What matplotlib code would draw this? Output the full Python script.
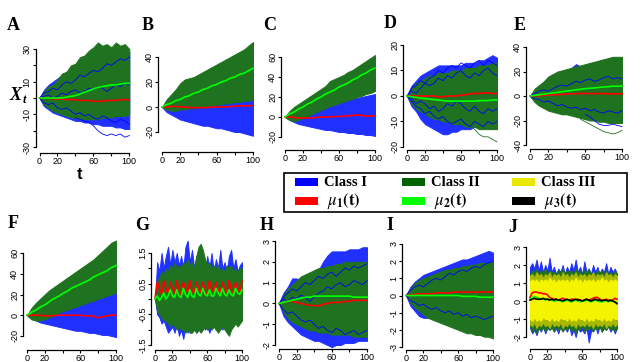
import matplotlib.pyplot as plt
from matplotlib.patches import Rectangle

# --- data (X_t envelopes, sample paths and means) ---
T21 = [0, 5, 10, 15, 20, 25, 30, 35, 40, 45, 50,
       55, 60, 65, 70, 75, 80, 85, 90, 95, 100]
T41 = [0, 2.5, 5, 7.5, 10, 12.5, 15, 17.5, 20, 22.5,
       25, 27.5, 30, 32.5, 35, 37.5, 40, 42.5, 45, 47.5,
       50, 52.5, 55, 57.5, 60, 62.5, 65, 67.5, 70, 72.5,
       75, 77.5, 80, 82.5, 85, 87.5, 90, 92.5, 95, 97.5,
       100]

# A
A_BLUE_HI = [0, 5, 8, 10, 12, 14, 16, 18, 19, 21, 22, 23, 24, 25, 26, 26, 27, 27, 28, 28, 28]
A_BLUE_LO = [0, -5, -7, -9, -10, -11, -12, -13, -14, -14, -15, -15, -16, -16, -17, -17, -17, -18, -18, -19, -19]
A_GREEN_HI = [0, 4, 7, 8, 11, 15, 16, 20, 21, 25, 26, 29, 31, 34, 32, 33, 31, 34, 32, 33, 30]
A_GREEN_LO = [0, -4, -6, -8, -9, -10, -11, -12, -12, -13, -13, -13, -13, -13, -12, -12, -12, -11, -11, -11, -10]
A_MU1 = [0, 0, 0, -0.5, -0.5, -0.5, -1, -1, -1, -1.5, -1.5, -1.5, -2, -2, -2, -1.5, -1.5, -1.5, -1, -1, -1]
A_MU2 = [0, 0, 0, 0, 0, 0, 0.5, 1, 1.5, 2.5, 3.5, 4.5, 5.5, 6.5, 7, 7.5, 8, 8, 8.5, 9, 9]
A_OUT_T = [40, 45, 50, 55, 60, 65, 70, 75, 80, 85, 90, 95, 100]
A_OUT_BLUE = [-12, -13, -14, -15, -17, -20, -22, -23, -22, -23, -22, -24, -23]
A_BLUE_P1 = [0, 3, 4, 6, 5, 8, 10, 9, 11, 14, 13, 15, 17, 16, 18, 21, 20, 22, 24, 23, 25]
A_BLUE_P2 = [0, -3, -4, -3, -6, -7, -6, -8, -10, -9, -11, -10, -12, -13, -11, -12, -14, -15, -13, -14, -16]
A_BLUE_P3 = [0, 1, 2, 0, 1, 3, 2, 4, 5, 3, 4, 6, 5, 7, 6, 4, 6, 8, 7, 9, 8]

# B
B_BLUE_HI = [0, 3, 5, 7, 8, 9, 10, 11, 12, 13, 13, 14, 15, 16, 17, 18, 18, 19, 20, 21, 22]
B_BLUE_LO = [0, -4, -6, -8, -10, -11, -12, -13, -14, -15, -15, -16, -17, -17, -18, -19, -20, -20, -21, -22, -23]
B_GREEN_HI = [0, 6, 10, 14, 19, 22, 23, 24, 26, 28, 30, 32, 34, 36, 38, 40, 42, 44, 46, 49, 52]
B_GREEN_LO = [0, -2, -3, -3, -2, -2, -1, -1, 0, 0, 1, 1, 2, 2, 3, 3, 4, 4, 5, 5, 6]
B_MU1 = [0, 0, 0.5, 0.5, 0, 0, -0.5, -0.5, -0.5, -0.5, -0.5, 0, 0, 0, 0, 0.5, 0.5, 1, 1, 1, 1]
B_MU2 = [0, 2, 3, 5, 6, 8, 9, 11, 12, 14, 15, 17, 18, 20, 21, 23, 24, 26, 27, 29, 31]

# C
C_BLUE_HI = [0, 3, 5, 6, 7, 8, 9, 10, 11, 12, 13, 14, 15, 16, 17, 18, 19, 20, 21, 22, 23]
C_BLUE_LO = [0, -3, -5, -7, -8, -9, -10, -11, -12, -13, -13, -14, -15, -15, -16, -16, -17, -17, -18, -18, -19]
C_GREEN_HI = [0, 6, 10, 13, 16, 19, 22, 25, 28, 31, 36, 38, 40, 42, 45, 47, 50, 53, 56, 59, 62]
C_GREEN_LO = [0, -3, -4, -3, -1, 1, 3, 5, 7, 9, 11, 12, 14, 15, 17, 18, 20, 21, 23, 24, 26]
C_MU1 = [0, 0, -0.5, -1, -1, -1, -1, -0.5, 0, 0, 0, 0.5, 0.5, 1, 1, 1.5, 2, 1.5, 1, 1, 1.5]
C_MU2 = [0, 3, 5, 8, 10, 13, 15, 18, 20, 23, 25, 27, 30, 32, 34, 37, 39, 42, 44, 47, 49]

# D
D_BLUE_HI = [0, 4, 6, 8, 9, 10, 11, 12, 12, 12, 12, 12, 12, 13, 13, 13, 14, 14, 15, 16, 15]
D_BLUE_LO = [0, -4, -6, -9, -11, -12, -13, -14, -15, -15, -14, -14, -13, -13, -13, -12, -12, -12, -12, -12, -11]
D_GREEN_HI = [0, 3, 5, 6, 7, 8, 8, 9, 9, 9, 10, 10, 10, 11, 11, 11, 12, 12, 12, 13, 13]
D_GREEN_LO = [0, -3, -5, -6, -7, -8, -9, -9, -10, -10, -11, -11, -11, -12, -12, -12, -13, -13, -13, -13, -13]
D_MU1 = [0, 0, 0, 0, 0, 0, 0, -0.3, -0.3, 0, 0, 0, 0.3, 0.5, 0.8, 1, 1, 1.2, 1.2, 1, 1]
D_MU2 = [0, -0.3, -0.5, -0.8, -1, -1.2, -1.4, -1.6, -1.8, -2, -2, -2, -2, -2, -2, -2, -1.8, -1.8, -1.8, -1.6, -1.5]
D_OUT_T = [70, 75, 80, 85, 90, 95, 100]
D_OUT_GREEN = [-12, -13, -15, -16, -16, -17, -18]
D_BLUE_P1 = [0, 3, 4, 6, 5, 7, 8, 10, 9, 11, 12, 11, 13, 12, 11, 13, 14, 12, 14, 13, 12]
D_BLUE_P2 = [0, -2, -4, -5, -7, -6, -8, -9, -8, -10, -11, -10, -9, -11, -12, -10, -11, -12, -10, -11, -10]
D_BLUE_P3 = [0, 2, 1, 3, 5, 4, 5, 7, 6, 8, 7, 9, 10, 8, 7, 9, 8, 10, 11, 9, 8]
D_BLUE_P4 = [0, -1, -3, -2, -3, -5, -4, -6, -5, -3, -4, -2, -3, -5, -6, -4, -6, -7, -5, -6, -5]

# E
E_BLUE_HI = [0, 4, 6, 8, 10, 12, 14, 17, 20, 23, 26, 24, 21, 20, 20, 21, 20, 21, 20, 21, 20]
E_BLUE_LO = [0, -4, -6, -8, -10, -11, -12, -13, -14, -14, -14, -15, -15, -15, -16, -16, -17, -18, -19, -20, -20]
E_GREEN_HI = [0, 6, 9, 12, 16, 18, 20, 21, 22, 23, 24, 25, 26, 27, 28, 29, 30, 31, 32, 32, 32]
E_GREEN_LO = [0, -5, -8, -10, -12, -13, -14, -15, -15, -16, -17, -18, -19, -20, -20, -21, -21, -22, -22, -22, -22]
E_MU1 = [0, 0, 0.3, 0.5, 0.8, 1, 1.2, 1.4, 1.6, 1.8, 2, 2, 2, 2, 2, 2, 2, 1.8, 1.8, 1.8, 1.8]
E_MU2 = [0, 0.5, 1, 1.5, 2, 2.5, 3, 3.5, 4, 4.5, 5, 5.5, 6, 6.3, 6.6, 7, 7.3, 7.6, 8, 8, 8]
E_OUT_GT = [55, 60, 65, 70, 75, 80, 85, 90, 95, 100]
E_OUT_GREEN = [-19, -21, -23, -25, -27, -29, -30, -31, -30, -28]
E_OUT_BT = [60, 65, 70, 75, 80, 85, 90, 95, 100]
E_OUT_BLUE = [-15, -17, -20, -23, -24, -24, -23, -24, -25]
E_BLUE_P1 = [0, 2, 4, 5, 4, 6, 8, 9, 8, 10, 12, 11, 13, 14, 12, 13, 15, 16, 14, 15, 14]
E_BLUE_P2 = [0, -2, -3, -5, -4, -6, -8, -7, -9, -10, -9, -11, -10, -12, -11, -13, -14, -12, -13, -14, -12]

# F
F_BLUE_HI = [0, 3, 5, 7, 8, 9, 10, 11, 12, 13, 14, 15, 16, 17, 18, 20, 22, 24, 25, 25, 25]
F_BLUE_LO = [0, -3, -5, -7, -8, -9, -10, -11, -12, -13, -14, -15, -15, -16, -17, -17, -18, -19, -19, -20, -21]
F_GREEN_HI = [0, 7, 12, 16, 20, 24, 27, 30, 33, 36, 39, 42, 45, 48, 51, 54, 58, 62, 66, 70, 72]
F_GREEN_LO = [0, -4, -5, -5, -4, -2, 0, 2, 4, 5, 7, 8, 10, 11, 13, 14, 16, 17, 19, 20, 22]
F_MU1 = [0, 0, 0, 0, -0.5, -0.5, -0.5, 0, 0, 0, 0, 0, 0, -0.5, -0.5, -1, -2.5, -1.5, -0.5, 0, 0]
F_MU2 = [0, 3, 5, 8, 10, 13, 16, 18, 21, 23, 26, 28, 30, 32, 34, 37, 39, 41, 43, 46, 48]

# G (oscillating, finer grid)
G_BLUE_HI = [0.0, 1.2, 0.9, 1.5, 1.0, 1.4, 1.7, 1.1, 1.6, 1.2,
             1.5, 1.1, 1.4, 1.0, 1.7, 1.9, 1.2, 1.6, 1.0, 1.4,
             1.5, 1.0, 1.3, 0.9, 1.4, 1.0, 1.5, 0.9, 1.3, 1.0,
             1.6, 1.0, 1.2, 0.9, 1.4, 1.6, 1.0, 1.3, 0.9, 1.1,
             1.2]
G_BLUE_LO = [0.0, -0.5, -0.6, -0.8, -0.7, -0.9, -1.1, -1.0, -0.9, -1.1,
             -0.8, -1.2, -1.0, -1.3, -0.9, -1.1, -0.8, -1.0, -0.9, -1.1,
             -1.0, -0.9, -0.8, -1.0, -0.9, -1.1, -0.9, -0.8, -1.0, -0.9,
             -0.8, -1.0, -0.8, -0.9, -0.7, -0.9, -0.8, -0.7, -0.8, -0.7,
             -0.6]
G_GREEN_HI = [0.0, 0.6, 0.7, 0.9, 0.8, 1.0, 0.9, 1.1, 1.0, 1.2,
              1.0, 1.1, 1.0, 1.2, 1.1, 1.3, 1.1, 1.2, 1.0, 1.4,
              1.7, 1.8, 1.6, 1.3, 1.1, 1.2, 1.0, 1.1, 1.0, 1.1,
              0.9, 1.0, 0.9, 1.1, 1.0, 1.1, 0.9, 1.0, 0.9, 1.0,
              1.0]
G_GREEN_LO = [0.0, -0.4, -0.5, -0.6, -0.7, -0.7, -0.8, -0.9, -0.8, -0.9,
              -1.0, -0.9, -1.0, -1.0, -1.1, -1.0, -1.1, -1.1, -1.0, -1.1,
              -1.0, -1.1, -1.0, -0.9, -1.0, -0.9, -1.0, -0.9, -1.0, -1.1,
              -1.0, -0.9, -1.0, -1.1, -1.2, -1.0, -0.9, -0.8, -0.9, -0.8,
              -0.7]
G_MU1 = [0.0, 0.55, 0.35, 0.15, 0.6, 0.35, 0.15, 0.55, 0.35, 0.2,
         0.6, 0.3, 0.15, 0.55, 0.35, 0.2, 0.6, 0.3, 0.15, 0.55,
         0.35, 0.2, 0.55, 0.3, 0.15, 0.6, 0.35, 0.2, 0.55, 0.3,
         0.15, 0.55, 0.35, 0.2, 0.6, 0.3, 0.2, 0.55, 0.35, 0.2,
         0.6]
G_MU2 = [0.0, 0.1, -0.05, 0.05, 0.2, 0.0, 0.1, 0.3, 0.1, 0.05,
         0.3, 0.1, 0.05, 0.35, 0.15, 0.05, 0.3, 0.1, 0.05, 0.35,
         0.15, 0.1, 0.35, 0.15, 0.1, 0.3, 0.1, 0.1, 0.35, 0.2,
         0.1, 0.35, 0.15, 0.1, 0.3, 0.15, 0.1, 0.35, 0.2, 0.15,
         0.3]

# H
H_BLUE_HI = [0, 0.5, 0.8, 1.2, 1.2, 1.1, 1.1, 1.2, 1.4, 1.6, 2.0, 2.3, 2.5, 2.5, 2.5, 2.5, 2.6, 2.6, 2.6, 2.7, 2.7]
H_BLUE_LO = [0, -0.6, -0.9, -1.1, -1.3, -1.5, -1.6, -1.7, -1.8, -1.8, -1.9, -2.0, -2.1, -2.0, -2.0, -1.9, -1.9, -1.9, -1.8, -1.8, -1.8]
H_GREEN_HI = [0, 0.4, 0.7, 0.9, 1.1, 1.3, 1.4, 1.5, 1.6, 1.7, 1.7, 1.8, 1.8, 1.9, 1.9, 2.0, 2.0, 2.0, 2.0, 2.0, 2.0]
H_GREEN_LO = [0, -0.4, -0.7, -0.9, -1.0, -1.1, -1.2, -1.3, -1.3, -1.4, -1.4, -1.4, -1.5, -1.5, -1.5, -1.5, -1.5, -1.6, -1.6, -1.6, -1.6]
H_MU1 = [0, 0.05, 0.1, 0.1, 0.05, 0.0, -0.05, -0.1, -0.1, -0.12, -0.05, 0.0, 0.05, 0.05, 0.05, 0.1, 0.1, 0.15, 0.15, 0.15, 0.15]
H_MU2 = [0, 0.05, 0.1, 0.15, 0.2, 0.25, 0.3, 0.3, 0.35, 0.35, 0.35, 0.35, 0.35, 0.35, 0.35, 0.35, 0.35, 0.3, 0.3, 0.3, 0.3]
H_BLUE_P1 = [0, 0.3, 0.5, 0.7, 0.6, 0.8, 1.0, 0.9, 1.1, 1.3, 1.2, 1.4, 1.5, 1.3, 1.5, 1.7, 1.6, 1.8, 1.7, 1.8, 1.9]
H_BLUE_P2 = [0, -0.3, -0.5, -0.4, -0.6, -0.8, -0.9, -0.8, -1.0, -1.2, -1.1, -1.3, -1.4, -1.2, -1.3, -1.5, -1.4, -1.3, -1.5, -1.4, -1.3]
H_BLUE_P3 = [0, 0.2, 0.1, 0.3, 0.2, 0.4, 0.3, 0.1, 0.3, 0.5, 0.6, 0.8, 0.7, 0.9, 1.0, 0.8, 0.9, 1.1, 1.0, 0.9, 1.1]

# I
I_BLUE_HI = [0, 0.5, 0.8, 1.0, 1.2, 1.3, 1.4, 1.5, 1.6, 1.7, 1.8, 1.9, 2.0, 2.1, 2.1, 2.2, 2.3, 2.4, 2.5, 2.6, 2.5]
I_BLUE_LO = [0, -0.6, -0.9, -1.2, -1.3, -1.3, -1.2, -1.2, -1.3, -1.3, -1.4, -1.4, -1.5, -1.5, -1.6, -1.6, -1.7, -1.7, -1.8, -1.8, -1.8]
I_GREEN_HI = [0, 0.4, 0.7, 0.9, 1.0, 1.1, 1.2, 1.3, 1.4, 1.5, 1.5, 1.6, 1.6, 1.7, 1.7, 1.8, 1.8, 1.9, 1.9, 1.9, 2.0]
I_GREEN_LO = [0, -0.4, -0.7, -0.9, -1.1, -1.3, -1.4, -1.5, -1.6, -1.7, -1.8, -1.9, -2.0, -2.1, -2.2, -2.2, -2.3, -2.3, -2.4, -2.4, -2.5]
I_MU1 = [0, 0.05, 0.05, 0.1, 0.1, 0.1, 0.1, 0.15, 0.15, 0.15, 0.15, 0.2, 0.2, 0.2, 0.2, 0.2, 0.2, 0.2, 0.2, 0.2, 0.2]
I_MU2 = [0, 0, 0, 0, 0, 0, 0, 0, 0, 0, 0, 0, 0, -0.05, -0.05, -0.05, -0.05, -0.1, -0.1, -0.1, -0.1]
I_BLUE_P1 = [0, 0.3, 0.5, 0.6, 0.5, 0.7, 0.9, 1.0, 0.9, 1.1, 1.3, 1.2, 1.4, 1.5, 1.4, 1.6, 1.7, 1.6, 1.8, 1.9, 2.0]
I_BLUE_P2 = [0, -0.3, -0.4, -0.6, -0.5, -0.7, -0.8, -0.7, -0.9, -1.0, -0.9, -1.1, -1.0, -1.2, -1.1, -1.3, -1.2, -1.3, -1.4, -1.3, -1.2]

# J (three classes, stationary)
J_BLUE_HI = [1.9, 2.1, 1.8, 2.3, 1.7, 2.2, 1.6, 2.0, 1.7, 2.4,
             1.6, 1.9, 1.5, 1.8, 1.6, 2.0, 1.5, 1.9, 1.6, 2.1,
             1.7, 2.3, 1.6, 1.9, 1.5, 2.2, 1.6, 1.8, 1.5, 2.0,
             1.6, 1.9, 1.5, 1.8, 1.6, 2.1, 1.5, 1.9, 1.6, 1.8,
             1.5]
J_BLUE_LO = [-1.5, -1.8, -1.6, -1.9, -1.5, -1.7, -1.4, -1.8, -1.5, -1.6,
             -1.4, -1.7, -1.5, -1.8, -1.4, -1.6, -1.5, -1.7, -1.4, -1.9,
             -1.6, -2.0, -1.5, -1.7, -1.6, -1.8, -1.5, -2.3, -1.7, -1.6,
             -1.4, -1.8, -1.4, -1.7, -1.5, -1.6, -1.4, -1.7, -1.5, -1.8,
             -1.5]
J_GREEN_HI = [1.5, 1.7, 1.6, 1.8, 1.5, 1.7, 1.6, 1.8, 1.5, 1.7,
              1.6, 1.6, 1.5, 1.7, 1.6, 1.8, 1.5, 1.7, 1.6, 1.7,
              1.5, 1.8, 1.6, 1.7, 1.5, 1.7, 1.6, 1.8, 1.5, 1.6,
              1.5, 1.7, 1.6, 1.7, 1.5, 1.7, 1.5, 1.6, 1.5, 1.7,
              1.5]
J_GREEN_LO = [-1.4, -1.7, -1.5, -1.8, -1.5, -1.6, -1.5, -1.7, -1.4, -1.6,
              -1.5, -1.7, -1.4, -1.6, -1.5, -1.7, -1.5, -1.6, -1.4, -1.7,
              -1.5, -1.8, -1.5, -1.6, -1.4, -1.7, -1.5, -1.6, -1.4, -1.7,
              -1.5, -1.6, -1.4, -1.7, -1.5, -1.6, -1.4, -1.6, -1.5, -1.7,
              -1.5]
J_YEL_HI = [1.4, 1.5, 1.3, 1.6, 1.4, 1.5, 1.3, 1.5, 1.4, 1.6,
            1.3, 1.5, 1.4, 1.5, 1.3, 1.6, 1.4, 1.5, 1.3, 1.5,
            1.4, 1.6, 1.3, 1.5, 1.4, 1.5, 1.3, 1.5, 1.4, 1.6,
            1.3, 1.5, 1.4, 1.5, 1.3, 1.6, 1.4, 1.5, 1.3, 1.5,
            1.4]
J_YEL_LO = [-1.3, -1.4, -1.2, -1.5, -1.3, -1.4, -1.2, -1.4, -1.3, -1.5,
            -1.2, -1.4, -1.3, -1.4, -1.2, -1.5, -1.3, -1.4, -1.2, -1.4,
            -1.3, -1.5, -1.2, -1.4, -1.3, -1.4, -1.2, -1.4, -1.3, -1.5,
            -1.2, -1.4, -1.3, -1.4, -1.2, -1.5, -1.3, -1.4, -1.2, -1.4,
            -1.3]
J_CORE_HI = [1.1, 1.2, 1.1, 1.2, 1.0, 1.2, 1.1, 1.2, 1.1, 1.3,
             1.1, 1.2, 1.0, 1.2, 1.1, 1.2, 1.1, 1.2, 1.0, 1.2,
             1.1, 1.3, 1.1, 1.2, 1.0, 1.2, 1.1, 1.2, 1.1, 1.2,
             1.0, 1.2, 1.1, 1.3, 1.1, 1.2, 1.0, 1.2, 1.1, 1.2,
             1.1]
J_CORE_LO = [-1.0, -1.1, -0.9, -1.1, -1.0, -1.1, -0.9, -1.0, -1.0, -1.1,
             -0.9, -1.1, -1.0, -1.1, -0.9, -1.0, -1.0, -1.1, -0.9, -1.1,
             -1.0, -1.1, -0.9, -1.0, -1.0, -1.1, -0.9, -1.1, -1.0, -1.1,
             -0.9, -1.0, -1.0, -1.1, -0.9, -1.1, -1.0, -1.1, -0.9, -1.0,
             -1.0]
J_MU1 = [0.2, 0.45, 0.5, 0.5, 0.45, 0.45, 0.4, 0.4, 0.35, 0.2,
         0.15, 0.1, 0.1, 0.05, 0.1, 0.15, 0.1, 0.05, 0.05, 0.1,
         0.1, 0.05, 0.1, 0.05, 0.0, 0.05, 0.1, 0.05, 0.1, 0.15,
         0.2, 0.2, 0.1, 0.05, 0.05, 0.1, 0.05, 0.0, 0.05, 0.15,
         0.1]
J_MU2 = [0.1, 0.2, 0.25, 0.2, 0.15, 0.1, 0.1, 0.05, 0.1, 0.1,
         0.05, 0.0, 0.0, 0.05, 0.0, -0.05, 0.0, 0.05, 0.0, -0.05,
         0.0, 0.05, 0.0, -0.05, 0.0, 0.0, 0.05, 0.0, -0.05, 0.0,
         0.05, 0.0, -0.05, -0.05, 0.0, 0.0, -0.05, 0.0, 0.0, -0.05,
         -0.1]
J_MU3 = [0.05, 0.1, 0.15, 0.1, 0.1, 0.1, 0.15, 0.1, 0.1, 0.05,
         0.1, 0.05, 0.1, 0.05, 0.05, 0.0, 0.05, 0.1, 0.05, 0.0,
         0.05, 0.1, 0.05, 0.05, 0.0, 0.05, 0.1, 0.05, 0.0, 0.05,
         0.1, 0.05, 0.05, 0.0, 0.05, 0.05, 0.0, 0.05, 0.0, -0.05,
         -0.15]

# y ticks (values, which ones carry a label)
Y_TICKS = {
    'A': ([-30, -20, -10, 0, 10, 20, 30], [-30, -10, 10, 30]),
    'B': ([-20, 0, 20, 40], [-20, 0, 20, 40]),
    'C': ([-20, 0, 20, 40, 60], [-20, 0, 20, 40, 60]),
    'D': ([-20, -10, 0, 10, 20], [-20, -10, 0, 10, 20]),
    'E': ([-40, -20, 0, 20, 40], [-40, -20, 0, 20, 40]),
    'F': ([-20, 0, 20, 40, 60], [-20, 0, 20, 40, 60]),
    'G': ([-1.5, -1, -0.5, 0, 0.5, 1, 1.5], [-1.5, -0.5, 0.5, 1.5]),
    'H': ([-2, -1, 0, 1, 2, 3], [-2, -1, 0, 1, 2, 3]),
    'I': ([-3, -2, -1, 0, 1, 2, 3], [-3, -2, -1, 0, 1, 2, 3]),
    'J': ([-2, -1, 0, 1, 2, 3], [-2, -1, 0, 1, 2, 3]),
}
X_TICKS = [0, 20, 40, 60, 80, 100]
X_LABELS = ['0', '20', '', '60', '', '100']

# --- layout in pixels of the 640x362 picture ---
W, H = 640, 362
LAYOUT = {
    'A': dict(x0=39.5, x100=129.3, ya=30, pya=49, yb=-30, pyb=147, bottom=153, top=30),
    'B': dict(x0=162, x100=253, ya=40, pya=57, yb=-20, pyb=132, bottom=152, top=30),
    'C': dict(x0=285, x100=375, ya=60, pya=57, yb=-20, pyb=137, bottom=150, top=30),
    'D': dict(x0=407, x100=497, ya=20, pya=45, yb=-20, pyb=147, bottom=150, top=30),
    'E': dict(x0=530, x100=622, ya=40, pya=47, yb=-40, pyb=145, bottom=149, top=30),
    'F': dict(x0=27, x100=116, ya=60, pya=253, yb=-20, pyb=336, bottom=350, top=228),
    'G': dict(x0=155, x100=242, ya=1.5, pya=253, yb=-1.5, pyb=345, bottom=350, top=228),
    'H': dict(x0=279, x100=367, ya=3, pya=241, yb=-2, pyb=345, bottom=349, top=228),
    'I': dict(x0=406, x100=493, ya=3, pya=244, yb=-3, pyb=347, bottom=350, top=228),
    'J': dict(x0=530, x100=617, ya=3, pya=247, yb=-2, pyb=337, bottom=349, top=228),
}
LETTER_POS = {'A': (13, 25), 'B': (148, 25), 'C': (270, 25), 'D': (390, 23), 'E': (520, 25),
              'F': (13, 223), 'G': (142, 225), 'H': (267, 225), 'I': (390, 225), 'J': (513, 228)}

BLUE = '#0000ff'
DKGREEN = '#006400'
BAND_BLUE = '#2030ff'
BAND_GREEN = '#1f721f'
RED = '#ff0000'
LTGREEN = '#00ff00'

SERIF = ['Liberation Serif', 'DejaVu Serif']
SANS = ['Liberation Sans', 'DejaVu Sans']


def fx(px):
    return px / W


def fy(py):
    return 1 - py / H


def make_axes(fig, name):
    L = LAYOUT[name]
    left = L['x0'] - 3.6
    right = L['x100'] + 3.6
    ax = fig.add_axes([fx(left), fy(L['bottom']), (right - left) / W, (L['bottom'] - L['top']) / H])
    sx = (L['x100'] - L['x0']) / 100.0
    ax.set_xlim(-(L['x0'] - left) / sx, 100 + (right - L['x100']) / sx)
    sy = (L['pyb'] - L['pya']) / (L['ya'] - L['yb'])
    ax.set_ylim(L['yb'] - (L['bottom'] - L['pyb']) / sy, L['ya'] + (L['pya'] - L['top']) / sy)
    ax.patch.set_visible(False)
    for s in ['top', 'right']:
        ax.spines[s].set_visible(False)
    yt, ylab = Y_TICKS[name]
    ax.spines['left'].set_bounds(yt[0], yt[-1])
    ax.spines['bottom'].set_bounds(0, 100)
    for s in ['left', 'bottom']:
        ax.spines[s].set_linewidth(0.9)
    ax.set_xticks(X_TICKS)
    ax.set_xticklabels(X_LABELS, fontfamily=SANS, fontsize=6.5)
    ax.set_yticks(yt)
    ax.set_yticklabels([('%g' % v) if v in ylab else '' for v in yt],
                       fontfamily=SANS, fontsize=6.5, rotation=90, va='center')
    ax.tick_params(length=2.2, width=0.8, pad=0.8)
    return ax


def band(ax, t, lo, hi, color):
    ax.fill_between(t, lo, hi, facecolor=color, edgecolor=color, linewidth=0.7)


def main():
    fig = plt.figure(figsize=(6.4, 3.62), dpi=100)

    panels = {
        'A': (T21, [(A_BLUE_LO, A_BLUE_HI, BAND_BLUE), (A_GREEN_LO, A_GREEN_HI, BAND_GREEN)],
              [(A_OUT_T, A_OUT_BLUE, BLUE), (T21, A_BLUE_P1, BLUE), (T21, A_BLUE_P2, BLUE),
               (T21, A_BLUE_P3, BLUE)],
              [(A_MU1, RED), (A_MU2, LTGREEN)]),
        'B': (T21, [(B_BLUE_LO, B_BLUE_HI, BAND_BLUE), (B_GREEN_LO, B_GREEN_HI, BAND_GREEN)],
              [], [(B_MU1, RED), (B_MU2, LTGREEN)]),
        'C': (T21, [(C_BLUE_LO, C_BLUE_HI, BAND_BLUE), (C_GREEN_LO, C_GREEN_HI, BAND_GREEN)],
              [], [(C_MU1, RED), (C_MU2, LTGREEN)]),
        'D': (T21, [(D_BLUE_LO, D_BLUE_HI, BAND_BLUE), (D_GREEN_LO, D_GREEN_HI, BAND_GREEN)],
              [(D_OUT_T, D_OUT_GREEN, BAND_GREEN), (T21, D_BLUE_P1, BLUE), (T21, D_BLUE_P2, BLUE),
               (T21, D_BLUE_P3, BLUE), (T21, D_BLUE_P4, BLUE)],
              [(D_MU1, RED), (D_MU2, LTGREEN)]),
        'E': (T21, [(E_BLUE_LO, E_BLUE_HI, BAND_BLUE), (E_GREEN_LO, E_GREEN_HI, BAND_GREEN)],
              [(E_OUT_BT, E_OUT_BLUE, BLUE), (E_OUT_GT, E_OUT_GREEN, BAND_GREEN),
               (T21, E_BLUE_P1, BLUE), (T21, E_BLUE_P2, BLUE)],
              [(E_MU1, RED), (E_MU2, LTGREEN)]),
        'F': (T21, [(F_BLUE_LO, F_BLUE_HI, BAND_BLUE), (F_GREEN_LO, F_GREEN_HI, BAND_GREEN)],
              [], [(F_MU1, RED), (F_MU2, LTGREEN)]),
        'G': (T41, [(G_BLUE_LO, G_BLUE_HI, BAND_BLUE), (G_GREEN_LO, G_GREEN_HI, BAND_GREEN)],
              [], [(G_MU1, RED), (G_MU2, LTGREEN)]),
        'H': (T21, [(H_BLUE_LO, H_BLUE_HI, BAND_BLUE), (H_GREEN_LO, H_GREEN_HI, BAND_GREEN)],
              [(T21, H_BLUE_P1, BLUE), (T21, H_BLUE_P2, BLUE), (T21, H_BLUE_P3, BLUE)],
              [(H_MU1, RED), (H_MU2, LTGREEN)]),
        'I': (T21, [(I_BLUE_LO, I_BLUE_HI, BAND_BLUE), (I_GREEN_LO, I_GREEN_HI, BAND_GREEN)],
              [(T21, I_BLUE_P1, BLUE), (T21, I_BLUE_P2, BLUE)],
              [(I_MU1, RED), (I_MU2, LTGREEN)]),
        'J': (T41, [(J_BLUE_LO, J_BLUE_HI, BAND_BLUE), (J_GREEN_LO, J_GREEN_HI, BAND_GREEN),
                    (J_YEL_LO, J_YEL_HI, '#a9b800'), (J_CORE_LO, J_CORE_HI, '#f4f400')],
              [], [(J_MU1, RED), (J_MU2, LTGREEN), (J_MU3, 'black')]),
    }

    for name, (t, bands, paths, means) in panels.items():
        ax = make_axes(fig, name)
        for lo, hi, col in bands:
            band(ax, t, lo, hi, col)
        for pt, py, col in paths:
            ax.plot(pt, py, color=col, lw=0.6)
        for mu, col in means:
            ax.plot(t, mu, color=col, lw=1.2)
        lx, ly = LETTER_POS[name]
        fig.text(fx(lx), fy(ly), name, fontfamily=SERIF, fontweight='bold', fontsize=13,
                 ha='center', va='center')

    # axis titles of panel A
    fig.text(fx(15), fy(95), 'X', fontfamily=SERIF, fontweight='bold', fontstyle='italic',
             fontsize=13, ha='center', va='center')
    fig.text(fx(24), fy(100), 't', fontfamily=SERIF, fontweight='bold', fontstyle='italic',
             fontsize=9, ha='center', va='center')
    fig.text(fx(80), fy(175), 't', fontfamily=SANS, fontweight='bold', fontsize=12,
             ha='center', va='center')

    # legend box
    fig.add_artist(Rectangle((fx(284), fy(212)), (627 - 284) / W, (212 - 173) / H,
                             transform=fig.transFigure, fill=False, lw=1.2, ec='black'))
    plt.rcParams['mathtext.fontset'] = 'stix'
    entries = [
        (295, 182, BLUE, 'Class I'), (402, 182, DKGREEN, 'Class II'), (512, 182, '#e8e800', 'Class III'),
        (295, 201, RED, r'$\mu_{\mathbf{1}}\mathbf{(t)}$'), (402, 201, LTGREEN, r'$\mu_{\mathbf{2}}\mathbf{(t)}$'),
        (512, 201, 'black', r'$\mu_{\mathbf{3}}\mathbf{(t)}$'),
    ]
    for px, py, col, label in entries:
        fig.add_artist(Rectangle((fx(px), fy(py + 4)), 23 / W, 8 / H, transform=fig.transFigure,
                                 fc=col, ec='none'))
        is_mu = label.startswith('$')
        fig.text(fx(px + (32 if is_mu else 29)), fy(py), label, fontfamily=SERIF, fontweight='bold',
                 fontsize=12 if is_mu else 10.5, ha='left', va='center')

    fig.savefig('out.png', dpi=100)


if __name__ == '__main__':
    main()
